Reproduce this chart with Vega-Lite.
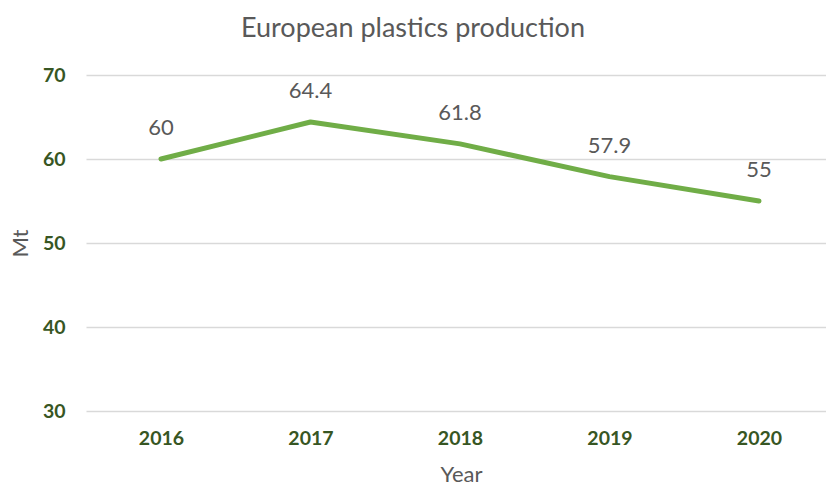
{
  "$schema": "https://vega.github.io/schema/vega-lite/v6.json",
  "autosize": "none",
  "width": 740,
  "height": 336,
  "padding": {"left": 86, "top": 75, "right": 0, "bottom": 75},
  "background": "white",
  "config": {"view": {"stroke": null}, "font": "Lato"},
  "title": {"text": "European plastics production", "fontSize": 27, "color": "#595959", "font": "Lato", "fontWeight": "normal", "anchor": "middle", "offset": 22, "dx": -43},
  "data": {"values": [
    {"Year": "2016", "Mt": 60},
    {"Year": "2017", "Mt": 64.4},
    {"Year": "2018", "Mt": 61.8},
    {"Year": "2019", "Mt": 57.9},
    {"Year": "2020", "Mt": 55}
  ]},
  "encoding": {
    "x": {"field": "Year", "type": "ordinal", "scale": {"type": "point", "padding": 0.475, "align": 0.528},
      "axis": {"labelAngle": 0, "domain": false, "ticks": false, "labelFont": "Lato", "labelFontSize": 19.5, "labelFontWeight": "bold", "labelColor": "#375623", "labelPadding": 18, "title": "Year", "titleFont": "Lato", "titleFontSize": 22, "titleFontWeight": "normal", "titleColor": "#595959", "titleX": 375, "titleY": 63, "titleBaseline": "middle"}},
    "y": {"field": "Mt", "type": "quantitative", "scale": {"domain": [30, 70]},
      "axis": {"values": [30, 40, 50, 60, 70], "domain": false, "ticks": false, "gridColor": "#d9d9d9", "gridWidth": 1.5, "labelFont": "Lato", "labelFontSize": 19.5, "labelFontWeight": "bold", "labelColor": "#375623", "labelPadding": 21, "title": "Mt", "titleFont": "Lato", "titleFontSize": 22, "titleFontWeight": "normal", "titleColor": "#595959", "titleX": -66, "titleY": 168, "titleBaseline": "middle", "titleAngle": -90}}
  },
  "layer": [
    {"mark": {"type": "line", "color": "#70AD47", "strokeWidth": 5, "strokeCap": "round", "strokeJoin": "round"}},
    {"mark": {"type": "text", "dy": -31, "fontSize": 22, "font": "Lato", "color": "#595959"}, "encoding": {"text": {"field": "Mt", "type": "quantitative"}}}
  ]
}
